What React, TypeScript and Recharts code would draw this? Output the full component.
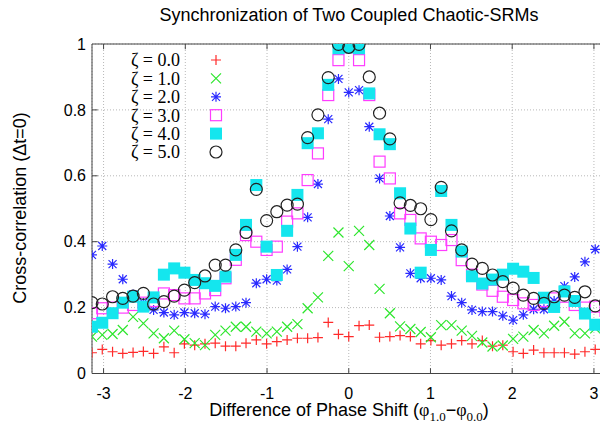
import React from 'react'
import {
  ScatterChart,
  Scatter,
  XAxis,
  YAxis,
  CartesianGrid,
  ReferenceLine,
} from 'recharts'

const PI = Math.PI

// phase difference grid (rad), 51 samples over [-pi, pi]
const phase = [
  -3.142, -3.016, -2.89, -2.765, -2.639, -2.513, -2.388, -2.262, -2.136, -2.011,
  -1.885, -1.759, -1.634, -1.508, -1.382, -1.257, -1.131, -1.005, -0.88, -0.754,
  -0.628, -0.503, -0.377, -0.251, -0.126, 0, 0.126, 0.251, 0.377, 0.503,
  0.628, 0.754, 0.88, 1.005, 1.131, 1.257, 1.382, 1.508, 1.634, 1.759,
  1.885, 2.011, 2.136, 2.262, 2.388, 2.513, 2.639, 2.765, 2.89, 3.016, 3.142,
]

const zeta0 = [
  0.063, 0.073, 0.066, 0.061, 0.064, 0.067, 0.061, 0.081, 0.063, 0.09,
  0.086, 0.09, 0.092, 0.083, 0.083, 0.092, 0.102, 0.09, 0.097, 0.102,
  0.107, 0.107, 0.109, 0.155, 0.119, 0.112, 0.145, 0.147, 0.11, 0.112,
  0.115, 0.112, 0.09, 0.1, 0.086, 0.09, 0.1, 0.09, 0.1, 0.083,
  0.086, 0.066, 0.061, 0.071, 0.063, 0.063, 0.063, 0.059, 0.066, 0.073, 0.063,
]
const zeta1 = [
  0.112, 0.117, 0.12, 0.132, 0.172, 0.152, 0.122, 0.107, 0.13, 0.104,
  0.092, 0.086, 0.117, 0.13, 0.142, 0.142, 0.127, 0.122, 0.127, 0.142,
  0.15, 0.198, 0.231, 0.357, 0.428, 0.326, 0.433, 0.39, 0.257, 0.183,
  0.143, 0.135, 0.126, 0.11, 0.147, 0.147, 0.13, 0.114, 0.094, 0.082,
  0.085, 0.105, 0.112, 0.132, 0.122, 0.145, 0.157, 0.122, 0.122, 0.137, 0.105,
]
const zeta2 = [
  0.36, 0.387, 0.332, 0.286, 0.24, 0.215, 0.193, 0.185, 0.178, 0.185,
  0.183, 0.18, 0.203, 0.198, 0.203, 0.215, 0.274, 0.286, 0.282, 0.316,
  0.385, 0.474, 0.575, 0.772, 0.894, 0.853, 0.86, 0.749, 0.592, 0.478,
  0.383, 0.304, 0.289, 0.289, 0.284, 0.235, 0.215, 0.193, 0.188, 0.188,
  0.175, 0.162, 0.178, 0.195, 0.195, 0.22, 0.265, 0.293, 0.339, 0.377, 0.36,
]
const zeta3 = [
  0.183, 0.198, 0.2, 0.2, 0.208, 0.215, 0.22, 0.243, 0.238, 0.228,
  0.228, 0.243, 0.253, 0.289, 0.345, 0.42, 0.4, 0.375, 0.385, 0.461,
  0.486, 0.587, 0.668, 0.845, 0.951, 0.99, 0.951, 0.845, 0.643, 0.592,
  0.486, 0.466, 0.41, 0.4, 0.39, 0.405, 0.344, 0.3, 0.27, 0.251,
  0.233, 0.223, 0.213, 0.208, 0.22, 0.228, 0.233, 0.208, 0.2, 0.203, 0.19,
]
const zeta4 = [
  0.142, 0.154, 0.183, 0.215, 0.233, 0.203, 0.231, 0.3, 0.319, 0.306,
  0.284, 0.274, 0.266, 0.294, 0.36, 0.451, 0.572, 0.385, 0.299, 0.433,
  0.542, 0.699, 0.729, 0.876, 0.987, 0.99, 0.987, 0.85, 0.726, 0.696,
  0.547, 0.44, 0.306, 0.375, 0.554, 0.451, 0.37, 0.295, 0.273, 0.285,
  0.3, 0.318, 0.309, 0.29, 0.23, 0.202, 0.249, 0.22, 0.182, 0.148, 0.142,
]
const zeta5 = [
  0.215, 0.211, 0.233, 0.228, 0.235, 0.243, 0.211, 0.218, 0.235, 0.253,
  0.276, 0.296, 0.329, 0.329, 0.375, 0.428, 0.559, 0.464, 0.491, 0.511,
  0.514, 0.716, 0.785, 0.898, 0.999, 0.99, 0.999, 0.9, 0.79, 0.712,
  0.518, 0.51, 0.5, 0.467, 0.565, 0.433, 0.375, 0.332, 0.319, 0.299,
  0.279, 0.259, 0.238, 0.228, 0.213, 0.233, 0.238, 0.231, 0.248, 0.205, 0.215,
]

const xTicks = [-3, -2, -1, 0, 1, 2, 3]
const yTicks = [0, 0.2, 0.4, 0.6, 0.8, 1]

type MarkerKind = 'plus' | 'cross' | 'star' | 'box' | 'fbox' | 'circle'

const seriesList: { name: string; values: number[]; color: string; marker: MarkerKind }[] = [
  { name: 'ζ = 0.0', values: zeta0, color: '#ff2a2a', marker: 'plus' },
  { name: 'ζ = 1.0', values: zeta1, color: '#2ee62e', marker: 'cross' },
  { name: 'ζ = 2.0', values: zeta2, color: '#2a2aff', marker: 'star' },
  { name: 'ζ = 3.0', values: zeta3, color: '#ff3cff', marker: 'box' },
  { name: 'ζ = 4.0', values: zeta4, color: '#14e6ee', marker: 'fbox' },
  { name: 'ζ = 5.0', values: zeta5, color: '#222222', marker: 'circle' },
]

function drawMarker(kind: MarkerKind, cx: number, cy: number, color: string) {
  switch (kind) {
    case 'plus':
      return <path d={`M${cx - 5},${cy}h10M${cx},${cy - 5}v10`} stroke={color} strokeWidth={1.2} fill="none" />
    case 'cross':
      return <path d={`M${cx - 5},${cy - 5}l10,10M${cx - 5},${cy + 5}l10,-10`} stroke={color} strokeWidth={1.2} fill="none" />
    case 'star':
      return (
        <path
          d={`M${cx - 5},${cy}h10M${cx},${cy - 5}v10M${cx - 4},${cy - 4}l8,8M${cx - 4},${cy + 4}l8,-8`}
          stroke={color}
          strokeWidth={1.2}
          fill="none"
        />
      )
    case 'box':
      return <rect x={cx - 5.5} y={cy - 5.5} width={11} height={11} stroke={color} strokeWidth={1.2} fill="none" />
    case 'fbox':
      return <rect x={cx - 6} y={cy - 6} width={12} height={12} fill={color} />
    case 'circle':
      return <circle cx={cx} cy={cy} r={6} stroke={color} strokeWidth={1.2} fill="none" />
  }
}

const fontSans = '"Liberation Sans", Arial, Helvetica, sans-serif'
const fontSerif = '"Liberation Serif", "Times New Roman", serif'

// key drawn inside the plot box, top-left
function KeyBox() {
  return (
    <svg width={150} height={132} style={{ display: 'block' }}>
      {seriesList.map((s, i) => (
        <g key={s.name}>
          <text
            x={72}
            y={16 + i * 18.4}
            dy="0.35em"
            textAnchor="end"
            fontFamily={fontSerif}
            fontSize={18}
            fill="#000"
          >
            {s.name}
          </text>
          {drawMarker(s.marker, 108, 16 + i * 18.4, s.color)}
        </g>
      ))}
    </svg>
  )
}

export default function App() {
  const tickStyle = { fontSize: 16, fill: '#000', fontFamily: fontSans }
  return (
    <div
      style={{
        position: 'absolute',
        left: 0,
        top: 0,
        width: 600,
        height: 430,
        overflow: 'hidden',
        background: '#fff',
      }}
    >
      <div
        style={{
          position: 'absolute',
          top: 5,
          left: 0,
          width: 698,
          textAlign: 'center',
          fontFamily: fontSans,
          fontSize: 18,
          color: '#000',
        }}
      >
        Synchronization of Two Coupled Chaotic-SRMs
      </div>
      <div
        style={{
          position: 'absolute',
          left: 20,
          top: 208,
          transform: 'translate(-50%, -50%) rotate(-90deg)',
          whiteSpace: 'nowrap',
          fontFamily: fontSans,
          fontSize: 18,
          color: '#000',
        }}
      >
        Cross-correlation (Δt=0)
      </div>
      <div
        style={{
          position: 'absolute',
          top: 400,
          left: 0,
          width: 698,
          textAlign: 'center',
          fontFamily: fontSans,
          fontSize: 18,
          color: '#000',
          whiteSpace: 'nowrap',
        }}
      >
        Difference of Phase Shift (
        <span style={{ fontFamily: fontSerif }}>φ</span>
        <sub style={{ fontFamily: fontSerif, fontSize: 13 }}>1.0</sub>−
        <span style={{ fontFamily: fontSerif }}>φ</span>
        <sub style={{ fontFamily: fontSerif, fontSize: 13 }}>0.0</sub>)
      </div>
      <div style={{ position: 'absolute', left: 0, top: 0 }}>
        <ScatterChart
          width={620}
          height={430}
          margin={{ top: 44, right: 14.5, left: 42, bottom: 26.5 }}
        >
          <CartesianGrid stroke="#b8b8b8" strokeDasharray="1 2" />
          <XAxis
            type="number"
            dataKey="x"
            domain={[-PI, PI]}
            ticks={xTicks}
            allowDataOverflow
            axisLine={{ stroke: '#444' }}
            tickLine={false}
            tickSize={0}
            tickMargin={14}
            height={30}
            tick={tickStyle}
          />
          <YAxis
            type="number"
            dataKey="y"
            domain={[0, 1]}
            ticks={yTicks}
            allowDataOverflow
            axisLine={{ stroke: '#444' }}
            tickLine={false}
            tickSize={0}
            tickMargin={6}
            width={50}
            tick={tickStyle}
          />
          <ReferenceLine y={1} stroke="#444" />
          <ReferenceLine x={PI} stroke="#444" />
          {xTicks.map((t) => (
            <ReferenceLine key={`xb${t}`} segment={[{ x: t, y: 0 }, { x: t, y: 0.016 }]} stroke="#444" />
          ))}
          {xTicks.map((t) => (
            <ReferenceLine key={`xt${t}`} segment={[{ x: t, y: 1 }, { x: t, y: 0.984 }]} stroke="#444" />
          ))}
          {yTicks.slice(1, -1).map((t) => (
            <ReferenceLine key={`yl${t}`} segment={[{ x: -PI, y: t }, { x: -PI + 0.07, y: t }]} stroke="#444" />
          ))}
          {seriesList.map((s) => (
            <Scatter
              key={s.name}
              name={s.name}
              data={phase.map((x, i) => ({ x, y: s.values[i] }))}
              isAnimationActive={false}
              shape={(p: any) => drawMarker(s.marker, p.cx, p.cy, s.color)}
            />
          ))}
        </ScatterChart>
      </div>
      <div style={{ position: 'absolute', left: 108, top: 44 }}>
        <KeyBox />
      </div>
    </div>
  )
}
